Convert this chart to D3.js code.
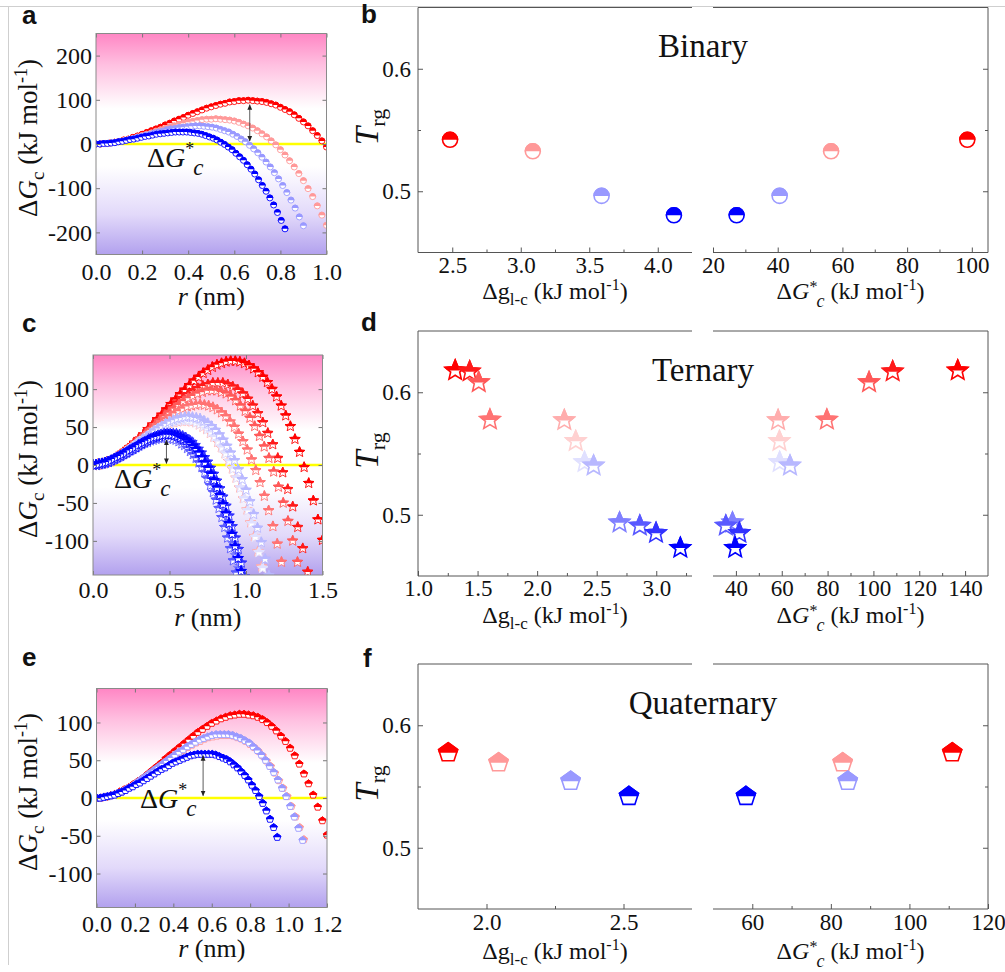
<!DOCTYPE html>
<html>
<head>
<meta charset="utf-8">
<script src="https://cdn.jsdelivr.net/npm/d3@7"></script>
<style>
  body { margin: 0; background: #fff; }
  svg text { font-family: "Liberation Serif", "Times New Roman", serif; fill: #111; }
  svg text.tag { font-family: "Liberation Sans", Arial, sans-serif; font-weight: bold; }
</style>
</head>
<body>
<svg id="fig" width="1005" height="972"></svg>
<script>
// ---- panel a: binary dGc(r), one list per composition, r = k * step
var binaryStep = [0.02, 0.02, 0.018, 0.0164];
var binaryRed = [0,0,1,2,4,6,9,11,15,18,22,26,30,34,38,43,47,52,56,60,65,69,73,77,81,84,87,90,92,95,96,98,98,99,98,97,96,94,91,88,83,78,73,66,58,50,41,30,19,7,-7];
var binaryPink = [0,0,1,2,4,6,8,10,13,16,19,22,25,29,32,35,38,41,44,47,49,51,53,55,56,56,57,56,55,54,52,49,45,41,36,30,23,16,7,-2,-13,-25,-38,-52,-67,-83,-101,-119,-140,-161,-184];
var binaryLightBlue = [0,0,1,2,3,4,6,8,10,12,15,17,20,22,25,27,29,32,34,35,37,38,39,40,41,41,40,39,38,36,33,30,27,22,17,11,5,-3,-11,-20,-30,-41,-52,-65,-79,-94,-110,-127,-145,-165,-185];
var binaryBlue = [0,0,1,1,2,3,5,6,8,10,11,13,15,17,18,20,22,23,24,25,26,27,27,27,27,26,25,24,22,19,16,13,9,4,-1,-7,-13,-21,-29,-37,-47,-57,-68,-81,-94,-107,-122,-138,-155,-173,-192];

// ---- panel b: binary Trg
var binaryDgLc = [2.484, 3.088, 3.59, 4.118];
var binaryDGstar = [98.6, 56.5, 40.6, 27.3];
var binaryTrg = [0.542, 0.5326, 0.4962, 0.4804];
var binaryHue = ["#ff0000", "#ff0000", "#0000ff", "#0000ff"];
var binaryTint = [1, 0.4, 0.4, 1];

// ---- panel c: ternary dGc(r)
var ternaryStep = [0.03, 0.03264, 0.03108, 0.028, 0.02396, 0.02408, 0.02412, 0.025, 0.01944, 0.01872, 0.0202, 0.01976];
var ternary1 = [0,0,2,4,6,10,14,18,23,29,34,40,47,53,60,66,73,80,86,93,99,105,111,116,121,125,129,132,134,136,137,137,136,134,131,127,122,116,109,100,90,78,65,51,34,17,-3,-24,-47,-72,-99];
var ternary2 = [0,1,2,4,7,11,16,21,26,32,38,44,51,57,64,70,76,82,88,93,97,101,104,106,108,108,108,106,103,99,94,87,78,68,56,42,27,9,-10,-32,-55,-82,-110,-141,-175];
var ternary3 = [0,0,2,4,7,10,14,19,24,29,35,40,46,52,58,64,69,74,79,84,88,91,94,96,98,98,98,96,94,90,85,78,71,62,51,38,24,9,-9,-29,-50,-74,-100,-128,-158];
var ternary4 = [0,0,1,3,5,8,12,15,19,24,28,33,37,42,47,52,56,60,64,68,71,74,77,78,79,80,79,78,76,73,69,64,57,50,41,31,20,7,-7,-23,-41,-60,-81,-104,-128,-155];
var ternary5 = [0,0,1,2,4,6,8,11,14,17,21,24,27,31,34,38,41,44,47,50,52,54,56,57,58,58,58,57,56,53,50,47,42,37,30,23,15,5,-5,-17,-30,-44,-59,-76,-94,-114,-134,-157];
var ternary6 = [0,0,1,2,4,6,9,11,14,17,21,24,28,31,35,38,42,45,48,50,53,55,57,58,59,59,59,58,56,54,51,47,43,37,31,23,15,5,-5,-17,-30,-44,-60,-77,-95,-115,-136,-158];
var ternary7 = [0,0,1,2,4,6,9,11,14,17,21,24,28,31,35,38,42,45,48,50,53,55,57,58,59,59,59,58,56,54,51,47,43,37,31,23,15,5,-5,-17,-30,-44,-60,-77,-95,-115,-136,-158];
var ternary8 = [0,0,1,3,4,7,9,12,15,19,22,26,30,34,37,41,45,48,51,54,57,59,61,62,63,64,63,62,61,58,55,51,46,40,33,25,16,6,-6,-19,-33,-48,-65,-83,-102,-124,-146,-171];
var ternary9 = [0,0,1,2,3,4,6,7,9,11,14,16,18,20,23,25,27,29,31,33,34,36,37,38,38,38,38,38,37,35,33,31,28,24,20,15,10,3,-4,-11,-20,-29,-39,-50,-62,-75,-89,-103,-119,-136,-154];
var ternary10 = [0,0,1,1,2,4,5,7,9,11,13,15,17,19,21,23,25,27,29,30,32,33,34,35,35,36,35,35,34,33,31,28,26,22,18,14,9,3,-3,-10,-18,-27,-36,-46,-57,-69,-82,-96,-110,-126,-142,-160];
var ternary11 = [0,0,1,2,3,4,6,8,10,12,15,17,20,22,24,27,29,31,34,35,37,39,40,41,41,41,41,41,40,38,36,33,30,26,21,16,10,4,-4,-12,-21,-31,-42,-54,-67,-81,-96,-111,-129,-147,-166];
var ternary12 = [0,0,1,2,3,4,6,8,10,12,14,16,19,21,23,26,28,30,32,34,36,37,38,39,40,40,40,39,38,36,34,32,29,25,21,16,10,3,-4,-12,-20,-30,-40,-52,-64,-77,-91,-107,-123,-140,-159];

// ---- panel d: ternary Trg
var ternaryDgLc = [1.312, 1.434, 1.51, 1.604, 2.228, 2.324, 2.398, 2.474, 2.692, 2.862, 2.998, 3.202];
var ternaryDGstar = [136.8, 108.4, 98.1, 79.7, 58.4, 59.0, 59.1, 63.6, 38.5, 35.6, 41.5, 39.7];
var ternaryTrg = [0.6177, 0.6168, 0.608, 0.5774, 0.577, 0.56, 0.5428, 0.540, 0.4935, 0.491, 0.485, 0.4728];
var ternaryHue = ["#ff0000","#ff0000","#ff0000","#ff0000","#ff0000","#ff0000","#0000ff","#0000ff","#0000ff","#0000ff","#0000ff","#0000ff"];
var ternaryTint = [1, 0.9, 0.65, 0.55, 0.32, 0.18, 0.12, 0.28, 0.5, 0.65, 0.8, 1];

// ---- panel e: quaternary dGc(r)
var quatStep = [0.024, 0.0216, 0.02146, 0.01882];
var quatRed = [0,0,1,3,5,8,11,14,18,22,26,31,36,41,46,52,57,62,67,72,77,82,87,91,95,99,102,105,107,109,110,111,111,110,109,107,104,100,95,89,82,75,66,56,45,32,19,4,-12,-30,-49];
var quatPink = [0,0,1,2,4,6,8,11,14,17,21,24,28,32,36,40,44,48,52,56,60,63,67,70,73,75,78,80,81,82,83,83,83,82,80,78,75,71,67,62,56,49,42,33,23,13,2,-11,-25,-39,-55];
var quatLightBlue = [0,0,1,2,4,6,8,11,14,17,21,25,29,33,37,41,45,49,53,57,61,64,68,71,74,77,79,81,83,84,84,84,84,83,81,79,76,73,68,63,57,50,42,34,24,13,2,-11,-25,-40,-56];
var quatBlue = [0,0,1,2,3,4,6,8,10,13,15,18,20,23,26,29,32,35,38,40,43,46,48,50,52,54,56,57,58,58,58,58,58,57,55,53,51,48,44,40,35,30,24,17,10,2,-7,-17,-28,-39,-52];

// ---- panel f: quaternary Trg
var quatDgLc = [1.86, 2.044, 2.307, 2.52];
var quatDGstar = [110.9, 83.0, 84.3, 58.4];
var quatTrg = [0.5776, 0.5694, 0.5543, 0.542];
var quatHue = ["#ff0000", "#ff0000", "#0000ff", "#0000ff"];
var quatTint = [1, 0.4, 0.4, 1];

// ---- tick values
var binaryRTicks = [0, 0.2, 0.4, 0.6, 0.8, 1.0];
var binaryGTicks = [-200, -100, 0, 100, 200];
var ternaryRTicks = [0, 0.5, 1.0, 1.5];
var ternaryGTicks = [-100, -50, 0, 50, 100];
var quatRTicks = [0, 0.2, 0.4, 0.6, 0.8, 1.0, 1.2];
var quatGTicks = [-100, -50, 0, 50, 100];
var trgTicks = [0.5, 0.6], trgMinor = [0.55];
var binaryDgTicks = [2.5, 3.0, 3.5, 4.0], binaryDgMinor = [2.75, 3.25, 3.75];
var binaryDGTicks = [20, 40, 60, 80, 100], binaryDGMinor = [30, 50, 70, 90];
var ternaryDgTicks = [1.0, 1.5, 2.0, 2.5, 3.0], ternaryDgMinor = [1.25, 1.75, 2.25, 2.75, 3.25];
var ternaryDGTicks = [40, 60, 80, 100, 120, 140], ternaryDGMinor = [50, 70, 90, 110, 130];
var quatDgTicks = [2.0, 2.5], quatDgMinor = [2.25];
var quatDGTicks = [60, 80, 100, 120], quatDGMinor = [70, 90, 110];

var svg = d3.select("#fig");
var defs = svg.append("defs");

// page guide lines of the original figure
svg.append("line").attr("x1", 0).attr("x2", 1005).attr("y1", 6.5).attr("y2", 6.5).attr("stroke", "#cfcfcf");
svg.append("line").attr("x1", 8.5).attr("x2", 8.5).attr("y1", 6.5).attr("y2", 965).attr("stroke", "#cfcfcf");

var grad = defs.append("linearGradient").attr("id", "bg").attr("x1", 0).attr("y1", 0).attr("x2", 0).attr("y2", 1);
[[0, "#ff86c4"], [0.14, "#ffbfe0"], [0.34, "#ffffff"], [0.6, "#ffffff"], [0.82, "#e2d9fa"], [1, "#b2a1ee"]].forEach(function(s) {
  grad.append("stop").attr("offset", s[0]).attr("stop-color", s[1]);
});

// half filled markers: the filled copy is clipped to the upper half
defs.append("clipPath").attr("id", "topHalf").append("rect")
  .attr("x", -40).attr("y", -40).attr("width", 80).attr("height", 40);

defs.append("marker").attr("id", "arrowHead").attr("markerUnits", "userSpaceOnUse")
  .attr("markerWidth", 6).attr("markerHeight", 6).attr("refX", 5).attr("refY", 3)
  .attr("orient", "auto-start-reverse")
  .append("path").attr("d", "M0,0.6L5.5,3L0,5.4Z").attr("fill", "#222");

function tint(hue, t) { return d3.interpolateRgb("#ffffff", hue)(t); }

function polygon(n, R, inner) {
  var m = inner ? 2 * n : n, pts = [];
  for (var i = 0; i < m; i++) {
    var a = -Math.PI / 2 + i * 2 * Math.PI / m, rr = (inner && i % 2) ? R * inner : R;
    pts.push(rr * Math.cos(a).toFixed(4) + "," + rr * Math.sin(a).toFixed(4));
  }
  return "M" + pts.join("L") + "Z";
}
function circle(r) {
  return "M" + (-r) + ",0A" + r + "," + r + " 0 1,0 " + r + ",0A" + r + "," + r + " 0 1,0 " + (-r) + ",0Z";
}

function halfMarkers(sel, shape, color, sw) {
  sel.append("path").attr("d", shape).attr("fill", "#fff").attr("stroke", color).attr("stroke-width", sw);
  sel.append("path").attr("d", shape).attr("fill", color).attr("stroke", color).attr("stroke-width", sw)
    .attr("clip-path", "url(#topHalf)");
}

function styleAxis(g, size, color) {
  g.select(".domain").remove();
  g.attr("font-family", null).attr("font-size", null).attr("color", color);
  g.selectAll("text").style("font-size", size + "px").attr("fill", "#111");
}

function addText(g, x, y, size, parts, rotate) {
  var t = g.append("text").style("font-size", size + "px");
  if (rotate) t.attr("transform", "translate(" + x + "," + y + ") rotate(-90)").attr("text-anchor", "middle");
  else t.attr("x", x).attr("y", y);
  parts.forEach(function(p) {
    var s = t.append("tspan").text(p.t);
    if (p.dy) s.attr("dy", p.dy);
    if (p.dx) s.attr("dx", p.dx);
    if (p.s) s.style("font-size", p.s + "px");
    if (p.i) s.style("font-style", "italic");
  });
  return t;
}

function dgStarLabel(g, x, y) {
  addText(g, x, y, 28, [
    {t: "\u0394"}, {t: "G", i: 1},
    {t: "*", dy: -12, s: 18},
    {t: "c", dy: 20, dx: -1, s: 23, i: 1}
  ]);
}

function tag(letter, x, y) {
  svg.append("text").attr("class", "tag").attr("x", x).attr("y", y).style("font-size", "26px").text(letter);
}

// ---- left column: dGc versus r
function energyPanel(o) {
  var x = d3.scaleLinear().domain(o.xDomain).range([o.left, o.right]);
  var y = d3.scaleLinear().domain(o.yDomain).range([o.bottom, o.top]);
  var g = svg.append("g");
  var clipId = "clip-" + o.id;
  defs.append("clipPath").attr("id", clipId).append("rect")
    .attr("x", o.left).attr("y", o.top).attr("width", o.right - o.left).attr("height", o.bottom - o.top);

  g.append("rect").attr("x", o.left).attr("y", o.top).attr("width", o.right - o.left)
    .attr("height", o.bottom - o.top).attr("fill", "url(#bg)");

  g.append("line").attr("x1", x(o.zeroFrom)).attr("x2", x(o.xDomain[1]))
    .attr("y1", y(0)).attr("y2", y(0)).attr("stroke", "#ffff00").attr("stroke-width", 2.6);

  var plot = g.append("g").attr("clip-path", "url(#" + clipId + ")");
  o.curves.forEach(function(vals, i) {
    var pts = vals.map(function(v, k) { return [k * o.steps[i], v]; });
    var color = tint(o.hues[i], o.tints[i]);
    var mk = plot.append("g").selectAll("g").data(pts).join("g")
      .attr("transform", function(d) { return "translate(" + x(d[0]) + "," + y(d[1]) + ")"; });
    halfMarkers(mk, o.shape, color, o.sw);
  });

  // double arrow for the barrier height
  g.append("line").attr("x1", x(o.arrow[0])).attr("x2", x(o.arrow[0]))
    .attr("y1", y(o.arrow[1])).attr("y2", y(o.arrow[2]))
    .attr("stroke", "#333").attr("stroke-width", 0.8)
    .attr("marker-start", "url(#arrowHead)").attr("marker-end", "url(#arrowHead)");
  dgStarLabel(g, o.label[0], o.label[1]);

  g.append("g").attr("transform", "translate(0," + o.bottom + ")")
    .call(d3.axisBottom(x).tickValues(o.xTicks).tickSize(-4).tickPadding(o.xPad).tickFormat(d3.format(".1f")))
    .call(styleAxis, 24, "#777");
  g.append("g").attr("transform", "translate(0," + o.top + ")")
    .call(d3.axisTop(x).tickValues(o.xTicks).tickSize(-4).tickFormat(""))
    .call(styleAxis, 24, "#777");
  g.append("g").attr("transform", "translate(" + o.left + ",0)")
    .call(d3.axisLeft(y).tickValues(o.yTicks).tickSize(-4).tickPadding(4).tickFormat(function(d) { return String(d); }))
    .call(styleAxis, 24, "#777");
  g.append("g").attr("transform", "translate(" + o.right + ",0)")
    .call(d3.axisRight(y).tickValues(o.yTicks).tickSize(-4).tickFormat(""))
    .call(styleAxis, 24, "#777");
  g.append("rect").attr("x", o.left).attr("y", o.top).attr("width", o.right - o.left)
    .attr("height", o.bottom - o.top).attr("fill", "none").attr("stroke", "#8a8a8a");

  addText(g, 37, (o.top + o.bottom) / 2 - 6, 27, [
    {t: "\u0394"}, {t: "G", i: 1}, {t: "c", dy: 7, s: 19},
    {t: " (kJ mol", dy: -7}, {t: "-1", dy: -10, s: 18}, {t: ")", dy: 10}
  ], true);
  addText(g, (o.left + o.right) / 2, o.titleY, 26, [{t: "r", i: 1}, {t: " (nm)"}])
    .attr("text-anchor", "middle");
}

// ---- right column: Trg versus dg and dG*, broken x axis
function trgPanel(o) {
  var L0 = 418, L1 = 692, R0 = 713, R1 = 988;
  var y = d3.scaleLinear().domain([0.45, 0.65]).range([o.bottom, o.top]);
  var xl = d3.scaleLinear().domain(o.leftDomain).range([L0, L1]);
  var xr = d3.scaleLinear().domain(o.rightDomain).range([R0, R1]);
  var g = svg.append("g");

  g.append("path").attr("fill", "none").attr("stroke", "#555")
    .attr("d", "M" + L0 + "," + o.top + "V" + o.bottom + "H" + L1 + "M" + R0 + "," + o.bottom + "H" + R1 + "V" + o.top + "H" + R0 + "M" + L1 + "," + o.top + "H" + L0);

  var fmt = d3.format(".1f");
  g.append("g").attr("transform", "translate(0," + o.bottom + ")")
    .call(d3.axisBottom(xl).tickValues(o.leftTicks).tickSize(-5).tickPadding(o.xPad).tickFormat(fmt)).call(styleAxis, 23, "#555");
  g.append("g").attr("transform", "translate(0," + o.bottom + ")")
    .call(d3.axisBottom(xl).tickValues(o.leftMinor).tickSize(-3).tickFormat("")).call(styleAxis, 23, "#555");
  g.append("g").attr("transform", "translate(0," + o.bottom + ")")
    .call(d3.axisBottom(xr).tickValues(o.rightTicks).tickSize(-5).tickPadding(o.xPad).tickFormat(d3.format("d"))).call(styleAxis, 23, "#555");
  g.append("g").attr("transform", "translate(0," + o.bottom + ")")
    .call(d3.axisBottom(xr).tickValues(o.rightMinor).tickSize(-3).tickFormat("")).call(styleAxis, 23, "#555");
  g.append("g").attr("transform", "translate(" + L0 + ",0)")
    .call(d3.axisLeft(y).tickValues(trgTicks).tickSize(-5).tickPadding(7).tickFormat(fmt)).call(styleAxis, 23, "#555");
  g.append("g").attr("transform", "translate(" + L0 + ",0)")
    .call(d3.axisLeft(y).tickValues(trgMinor).tickSize(-3).tickFormat("")).call(styleAxis, 23, "#555");
  g.append("g").attr("transform", "translate(" + R1 + ",0)")
    .call(d3.axisRight(y).tickValues(trgTicks).tickSize(-5).tickFormat("")).call(styleAxis, 23, "#555");
  g.append("g").attr("transform", "translate(" + R1 + ",0)")
    .call(d3.axisRight(y).tickValues(trgMinor).tickSize(-3).tickFormat("")).call(styleAxis, 23, "#555");

  var pts = [];
  o.dg.forEach(function(v, i) {
    var c = tint(o.hues[i], o.tints[i]);
    pts.push({x: xl(v), y: y(o.trg[i]), c: c});
    pts.push({x: xr(o.dG[i]), y: y(o.trg[i]), c: c});
  });
  var mk = g.append("g").selectAll("g").data(pts).join("g")
    .attr("transform", function(d) { return "translate(" + d.x + "," + d.y + ")"; });
  mk.append("path").attr("d", o.shape).attr("fill", "#fff")
    .attr("stroke", function(d) { return d.c; }).attr("stroke-width", 1.6);
  mk.append("path").attr("d", o.shape).attr("fill", function(d) { return d.c; })
    .attr("stroke", function(d) { return d.c; }).attr("stroke-width", 1.6).attr("clip-path", "url(#topHalf)");

  g.append("text").attr("x", 703).attr("y", o.top + 49.5).attr("text-anchor", "middle")
    .style("font-size", "33px").text(o.title);

  addText(g, 378, (o.top + o.bottom) / 2 - 3, 33, [
    {t: "T", i: 1}, {t: "rg", dy: 7, s: 22}
  ], true);

  addText(g, (L0 + L1) / 2, o.titleY, 24, [
    {t: "\u0394g"}, {t: "l-c", dy: 6, s: 17},
    {t: " (kJ mol", dy: -6}, {t: "-1", dy: -9, s: 16}, {t: ")", dy: 9}
  ]).attr("text-anchor", "middle");
  addText(g, (R0 + R1) / 2, o.titleY, 24, [
    {t: "\u0394"}, {t: "G", i: 1}, {t: "*", dy: -7, s: 16},
    {t: "c", dy: 15, dx: -1, s: 18, i: 1},
    {t: " (kJ mol", dy: -8}, {t: "-1", dy: -9, s: 16}, {t: ")", dy: 9}
  ]).attr("text-anchor", "middle");
}

energyPanel({
  id: "a", left: 96, right: 326.5, top: 33.5, bottom: 254.5,
  xDomain: [0, 1], yDomain: [-250, 250], xTicks: binaryRTicks, yTicks: binaryGTicks, xPad: 8,
  curves: [binaryRed, binaryPink, binaryLightBlue, binaryBlue], steps: binaryStep,
  hues: binaryHue, tints: binaryTint, shape: circle(3), sw: 0.9,
  zeroFrom: 0.08, arrow: [0.667, 89, 7], label: [147, 167], titleY: 305
});
energyPanel({
  id: "c", left: 93, right: 322.5, top: 355, bottom: 575,
  xDomain: [0, 1.5], yDomain: [-145, 145], xTicks: ternaryRTicks, yTicks: ternaryGTicks, xPad: 6,
  curves: [ternary1, ternary2, ternary3, ternary4, ternary5, ternary6, ternary7, ternary8, ternary9, ternary10, ternary11, ternary12],
  steps: ternaryStep, hues: ternaryHue, tints: ternaryTint, shape: polygon(5, 5.5, 0.45), sw: 0.9,
  zeroFrom: 0.1, arrow: [0.48, 33, 2], label: [114, 488], titleY: 626
});
energyPanel({
  id: "e", left: 96.5, right: 327, top: 688.5, bottom: 907.5,
  xDomain: [0, 1.2], yDomain: [-145, 145], xTicks: quatRTicks, yTicks: quatGTicks, xPad: 7,
  curves: [quatRed, quatPink, quatLightBlue, quatBlue], steps: quatStep,
  hues: quatHue, tints: quatTint, shape: polygon(5, 3.8), sw: 0.9,
  zeroFrom: 0.1, arrow: [0.555, 56, 3], label: [140, 808], titleY: 957
});

trgPanel({
  top: 7.5, bottom: 252.5, leftDomain: [2.25, 4.25], rightDomain: [20, 105],
  leftTicks: binaryDgTicks, leftMinor: binaryDgMinor, rightTicks: binaryDGTicks, rightMinor: binaryDGMinor,
  dg: binaryDgLc, dG: binaryDGstar, trg: binaryTrg, hues: binaryHue, tints: binaryTint,
  shape: circle(7.5), title: "Binary", xPad: 4, titleY: 299
});
trgPanel({
  top: 331, bottom: 576, leftDomain: [1.0, 3.3], rightDomain: [30, 150],
  leftTicks: ternaryDgTicks, leftMinor: ternaryDgMinor, rightTicks: ternaryDGTicks, rightMinor: ternaryDGMinor,
  dg: ternaryDgLc, dG: ternaryDGstar, trg: ternaryTrg, hues: ternaryHue, tints: ternaryTint,
  shape: polygon(5, 10.5, 0.45), title: "Ternary", xPad: 4, titleY: 623
});
trgPanel({
  top: 664, bottom: 909, leftDomain: [1.75, 2.75], rightDomain: [50, 120],
  leftTicks: quatDgTicks, leftMinor: quatDgMinor, rightTicks: quatDGTicks, rightMinor: quatDGMinor,
  dg: quatDgLc, dG: quatDGstar, trg: quatTrg, hues: quatHue, tints: quatTint,
  shape: polygon(5, 10), title: "Quaternary", xPad: 5, titleY: 959
});

tag("a", 22, 24);
tag("b", 361, 23);
tag("c", 22, 332);
tag("d", 361, 331);
tag("e", 22, 666);
tag("f", 363, 667);
</script>
</body>
</html>
